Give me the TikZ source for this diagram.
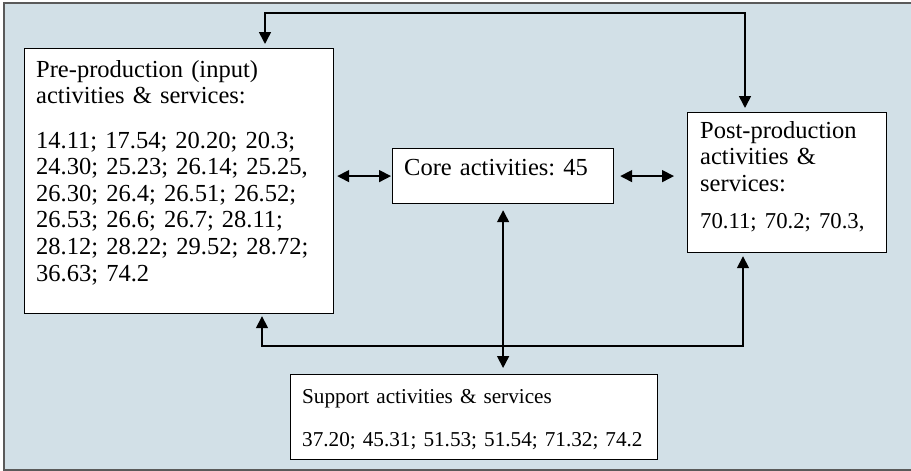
\documentclass[tikz,border=0pt]{standalone}
\usepackage{fontspec}
\setmainfont{Liberation Serif}
\usetikzlibrary{arrows.meta}
\frenchspacing
\definecolor{panel}{RGB}{210,224,231}
\definecolor{framegray}{RGB}{90,90,90}
\begin{document}
\begin{tikzpicture}[x=1pt,y=-1pt,
  box/.style={draw=black, line width=1.2pt, fill=white, anchor=north west, inner sep=0pt},
  txt/.style={anchor=base west, inner sep=0pt, align=left, text width=#1,
    font=\fontsize{24.5}{26.6}\selectfont},
  small/.style={font=\fontsize{21.2}{23}\selectfont},
  link/.style={line width=1.6pt,
    {Triangle[length=12pt,width=12pt]}-{Triangle[length=12pt,width=12pt]}},
]
\useasboundingbox (0,0) rectangle (911,471);
% panel behind the diagram
\draw[framegray, line width=2pt, fill=panel] (4,3) rectangle (914,470);

% boxes
\node[box, minimum width=309pt, minimum height=265pt] (pre)  at (24,48)  {};
\node[box, minimum width=221pt, minimum height=55pt]  (core) at (392,148) {};
\node[box, minimum width=199pt, minimum height=140pt] (post) at (687,112) {};
\node[box, minimum width=367pt, minimum height=85pt]  (sup)  at (290,374) {};

% box texts
\node[txt=300pt] (preText) at (36,77) {Pre-production (input)\\activities \& services:\\[18pt]%
14.11; 17.54; 20.20; 20.3;\\24.30; 25.23; 26.14; 25.25,\\26.30; 26.4; 26.51; 26.52;\\%
26.53; 26.6; 26.7; 28.11;\\28.12; 28.22; 29.52; 28.72;\\36.63; 74.2};
\node[txt=210pt] (coreText) at (404,175) {Core activities: 45};
\node[txt=185pt] (postText) at (700,138) {Post-production\\activities \&\\services:\\[11pt]%
{\fontsize{22.7}{26.6}\selectfont 70.11; 70.2; 70.3,}};
\node[txt=360pt, small] (supText) at (302,403) {Support activities \& services\\[20pt]37.20; 45.31; 51.53; 51.54; 71.32; 74.2};

% connectors
\coordinate (tl) at (265,13);
\coordinate (tr) at (745,13);
\draw[link, shorten <=4pt, shorten >=4pt] (tl |- pre.north) -- (tl) -- (tr) -- (tr |- post.north);

\draw[link, shorten <=3pt, shorten >=1pt] (pre.east |- core.west) -- (core.west);
\draw[link, shorten <=6pt, shorten >=13pt] (core.east) -- (post.west |- core.east);
\draw[link, shorten <=6pt, shorten >=6pt] (core.south) -- (core.south |- sup.north);

\coordinate (bl) at (262,346);
\coordinate (br) at (743,346);
\draw[link, shorten <=2pt, shorten >=3pt] (bl |- pre.south) -- (bl) -- (br) -- (br |- post.south);
\end{tikzpicture}
\end{document}
